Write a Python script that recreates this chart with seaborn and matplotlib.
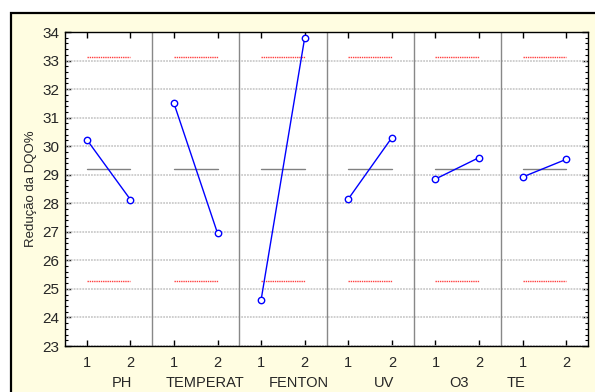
import matplotlib
matplotlib.use("Agg")
import matplotlib.pyplot as plt
import seaborn as sns
import pandas as pd
import numpy as np
from matplotlib.patches import Rectangle
from matplotlib.ticker import MultipleLocator

factors = ["PH", "TEMPERAT", "FENTON", "UV", "O3", "TE"]
level1 = [30.23, 31.50, 24.62, 28.15, 28.85, 28.92]
level2 = [28.13, 26.95, 33.80, 30.30, 29.60, 29.54]
levels = ["1", "2"]
grand_mean = 29.20
upper_limit = 33.14
lower_limit = 25.26
label_pos = [0.654, 1.606, 2.684, 3.66, 4.52, 5.17]

sns.set_style("white")
plt.rcParams['font.family'] = ['Liberation Sans', 'DejaVu Sans']

rows = []
for i, f in enumerate(factors):
    rows.append({"factor": f, "x": i + 0.25, "y": level1[i]})
    rows.append({"factor": f, "x": i + 0.75, "y": level2[i]})
df = pd.DataFrame(rows)

fig = plt.figure(figsize=(5.95, 3.92), dpi=100)
fig.patch.set_facecolor("white")
fig.patches.append(Rectangle((11/595, -0.1), 1.2, (392-12.5)/392 + 0.1,
                             transform=fig.transFigure, facecolor="#FFFDE1",
                             edgecolor="black", linewidth=1.6, zorder=-10))
ax = fig.add_axes([65/595, 1-346/392, (588-65)/595, (346-32)/392])
ax.set_zorder(5)
ax.set_facecolor("white")

ax.set_xlim(0, 6)
ax.set_ylim(23, 34)

# grid
for v in range(23, 35):
    ax.axhline(v, color="#CCCCCC", lw=1.3, ls=(0, (1, 0.6)), zorder=1)
for i in range(1, 6):
    ax.axvline(i, color="#888888", lw=1, zorder=2)

for i in range(6):
    ax.plot([i + 0.25, i + 0.75], [grand_mean]*2, color="#808080", lw=1, zorder=2)
    ax.plot([i + 0.25, i + 0.75], [upper_limit]*2, color="#FF4040", lw=1, ls=(0, (1, 0.6)), zorder=2)
    ax.plot([i + 0.25, i + 0.75], [lower_limit]*2, color="#FF4040", lw=1, ls=(0, (1, 0.6)), zorder=2)

sns.lineplot(data=df, x="x", y="y", units="factor", estimator=None, ax=ax,
             color="#0000FF", lw=1, marker="o", markersize=4.6,
             markerfacecolor="white", markeredgecolor="#0000FF", markeredgewidth=1,
             zorder=3, legend=False)

xt = []
xl = []
for i in range(6):
    xt += [i + 0.25, i + 0.75]
    xl += levels
ax.set_xticks(xt)
ax.set_xticklabels(xl, fontsize=10.5)
ax.set_yticks(range(23, 35))
ax.set_yticklabels([str(v) for v in range(23, 35)], fontsize=11)
ax.yaxis.set_minor_locator(MultipleLocator(0.2))
ax.tick_params(axis="both", which="both", direction="in", top=True, right=True,
               bottom=True, left=True, color="black")
ax.tick_params(axis="both", which="major", length=4, width=1)
ax.tick_params(axis="y", which="minor", length=2, width=0.8)
ax.tick_params(axis="x", which="major", pad=7)
ax.tick_params(axis="y", which="major", pad=4)
ax.set_xlabel("")
ax.set_ylabel("Redução da DQO%", fontsize=9.5, labelpad=4)
for s in ax.spines.values():
    s.set_color("black")
    s.set_linewidth(1)
    s.set_visible(True)

for p, f in zip(label_pos, factors):
    ax.text(p / 6, -0.118, f, transform=ax.transAxes, fontsize=10.5,
            ha="center", va="center")

fig.savefig("out.png", dpi=100)
